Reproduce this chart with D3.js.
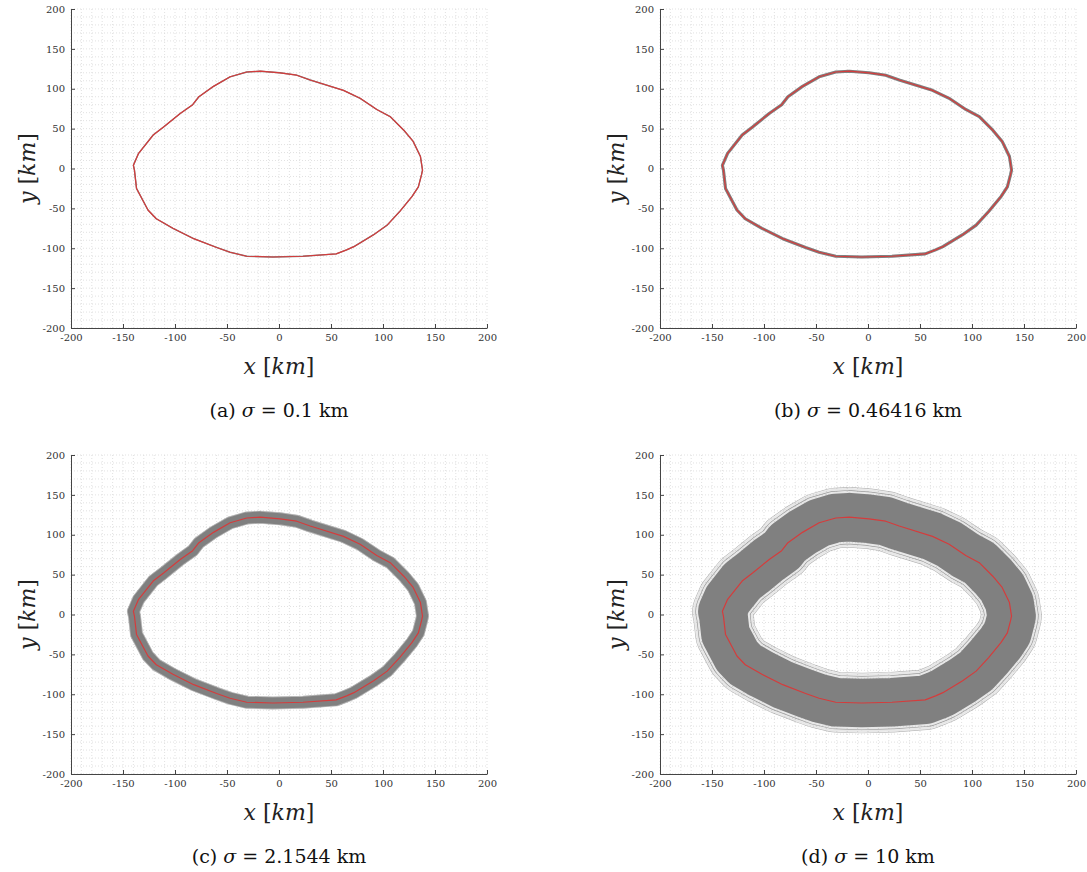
<!DOCTYPE html>
<html>
<head>
<meta charset="utf-8">
<script src="https://cdn.jsdelivr.net/npm/d3@7"></script>
<style>
  html, body { margin: 0; padding: 0; background: #fff; }
  svg { display: block; }
  .tick text { font-family: "DejaVu Serif", serif; font-size: 10px; fill: #333; }
</style>
</head>
<body>
<svg id="chart" width="1087" height="872"></svg>
<script>
// Nominal closed trajectory (km), traced from the left side over the top
const nominalX = [-140, -135, -121, -111, -95, -83, -77, -63, -47, -31, -18, 1, 17, 30, 62, 78, 94, 107, 120, 129, 136, 138,
                  137, 134, 128, 116, 104, 91, 72, 65, 55, 23, -6, -31, -47, -60, -82, -102, -118, -126, -137, -139];
const nominalY = [4, 19, 42, 52, 69, 80, 90, 103, 115, 121, 122, 120, 117, 111, 98, 88, 74, 65, 48, 34, 15, -2,
                  -8, -23, -35, -54, -71, -83, -98, -102, -107, -110, -111, -110, -105, -99, -88, -75, -63, -52, -25, -2];

// Noise level of each Monte Carlo run (km)
const panelLetters = ["a", "b", "c", "d"];
const sigmaLabels = ["0.1", "0.46416", "2.1544", "10"];
const sigmaValues = [0.1, 0.46416, 2.1544, 10];

// Axis ticks
const axisTicks = [-200, -150, -100, -50, 0, 50, 100, 150, 200];
const gridStep = 10;

const svg = d3.select("#chart");
const W = 416, H = 319;
const origins = [[71, 9], [660, 9], [71, 455], [660, 455]];

const pts = nominalX.map((x, i) => [x, nominalY[i]]);
const gridValues = d3.range(-200, 200 + gridStep, gridStep);

panelLetters.forEach((letter, p) => {
  const [ox, oy] = origins[p];
  const sigma = sigmaValues[p];
  const g = svg.append("g").attr("transform", `translate(${ox},${oy})`);

  const x = d3.scaleLinear().domain([-200, 200]).range([0, W]);
  const y = d3.scaleLinear().domain([-200, 200]).range([H, 0]);
  // pixel length of one km (average of both axes)
  const pxPerKm = (Math.abs(x(1) - x(0)) + Math.abs(y(1) - y(0))) / 2;

  // dotted grid
  const grid = g.append("g").attr("stroke", "#d9d9d9").attr("stroke-width", 0.8)
    .attr("stroke-dasharray", "1,2").attr("fill", "none");
  gridValues.forEach(v => {
    grid.append("line").attr("x1", x(v)).attr("x2", x(v)).attr("y1", 0).attr("y2", H);
    grid.append("line").attr("x1", 0).attr("x2", W).attr("y1", y(v)).attr("y2", y(v));
  });

  const line = d3.line().x(d => x(d[0])).y(d => y(d[1])).curve(d3.curveLinearClosed);
  const pathD = line(pts);

  // faint halo where only a few runs stray
  g.append("path").attr("d", pathD).attr("fill", "none").attr("stroke", "#808080")
    .attr("stroke-width", 2 * 3.2 * sigma * pxPerKm).attr("stroke-linejoin", "round")
    .attr("opacity", 0.18);

  // a couple of outlying runs: thin outlines at the edge of the spread
  const ringMults = [2.95, 3.3];
  ringMults.forEach((m, k) => {
    const wOuter = 2 * m * sigma * pxPerKm;
    if (wOuter < 8) return;
    const maskId = `ring-${letter}-${k}`;
    const mask = g.append("mask").attr("id", maskId).attr("maskUnits", "userSpaceOnUse")
      .attr("x", -50).attr("y", -50).attr("width", W + 100).attr("height", H + 100);
    mask.append("path").attr("d", pathD).attr("fill", "none").attr("stroke", "#fff")
      .attr("stroke-width", wOuter).attr("stroke-linejoin", "round");
    mask.append("path").attr("d", pathD).attr("fill", "none").attr("stroke", "#000")
      .attr("stroke-width", wOuter - 1.4).attr("stroke-linejoin", "round");
    g.append("path").attr("d", pathD).attr("fill", "none").attr("stroke", "#8a8a8a")
      .attr("stroke-width", wOuter + 1).attr("stroke-linejoin", "round")
      .attr("mask", `url(#${maskId})`).attr("opacity", k === 0 ? 0.8 : 0.6);
  });

  // dense spread of the perturbed runs
  g.append("path").attr("d", pathD).attr("fill", "none").attr("stroke", "#808080")
    .attr("stroke-width", 2 * 2.6 * sigma * pxPerKm + 0.9).attr("stroke-linejoin", "round");

  // nominal trajectory
  g.append("path").attr("d", pathD).attr("fill", "none").attr("stroke", "#d43c3c")
    .attr("stroke-width", 1.2).attr("stroke-linejoin", "round");

  // axes
  const xAxis = g.append("g").attr("transform", `translate(0,${H})`)
    .call(d3.axisBottom(x).tickValues(axisTicks).tickFormat(d3.format("d")).tickSizeInner(-4).tickSizeOuter(0).tickPadding(6));
  const yAxis = g.append("g")
    .call(d3.axisLeft(y).tickValues(axisTicks).tickFormat(d3.format("d")).tickSizeInner(-4).tickSizeOuter(0).tickPadding(6));
  [xAxis, yAxis].forEach(a => {
    a.select(".domain").attr("stroke", "#444");
    a.selectAll(".tick line").attr("stroke", "#444");
    a.selectAll(".tick text").text(d => String(d).replace("−", "-"));
  });

  // axis titles
  const xt = g.append("text").attr("x", W / 2).attr("y", H + 46).attr("text-anchor", "middle")
    .attr("font-family", "DejaVu Serif, serif").attr("font-size", 22).attr("fill", "#222");
  xt.append("tspan").attr("font-style", "italic").text("x");
  xt.append("tspan").text(" [");
  xt.append("tspan").attr("font-style", "italic").text("km");
  xt.append("tspan").text("]");

  const yt = g.append("text").attr("transform", `translate(-36,${H / 2}) rotate(-90)`).attr("text-anchor", "middle")
    .attr("font-family", "DejaVu Serif, serif").attr("font-size", 22).attr("fill", "#222");
  yt.append("tspan").attr("font-style", "italic").text("y");
  yt.append("tspan").text(" [");
  yt.append("tspan").attr("font-style", "italic").text("km");
  yt.append("tspan").text("]");

  // caption
  const cap = g.append("text").attr("x", W / 2).attr("y", H + 89).attr("text-anchor", "middle")
    .attr("font-family", "DejaVu Serif, serif").attr("font-size", 19).attr("fill", "#111");
  cap.append("tspan").text(`(${letter}) `);
  cap.append("tspan").attr("font-style", "italic").text("σ");
  cap.append("tspan").text(` = ${sigmaLabels[p]}  km`);
});
</script>
</body>
</html>
